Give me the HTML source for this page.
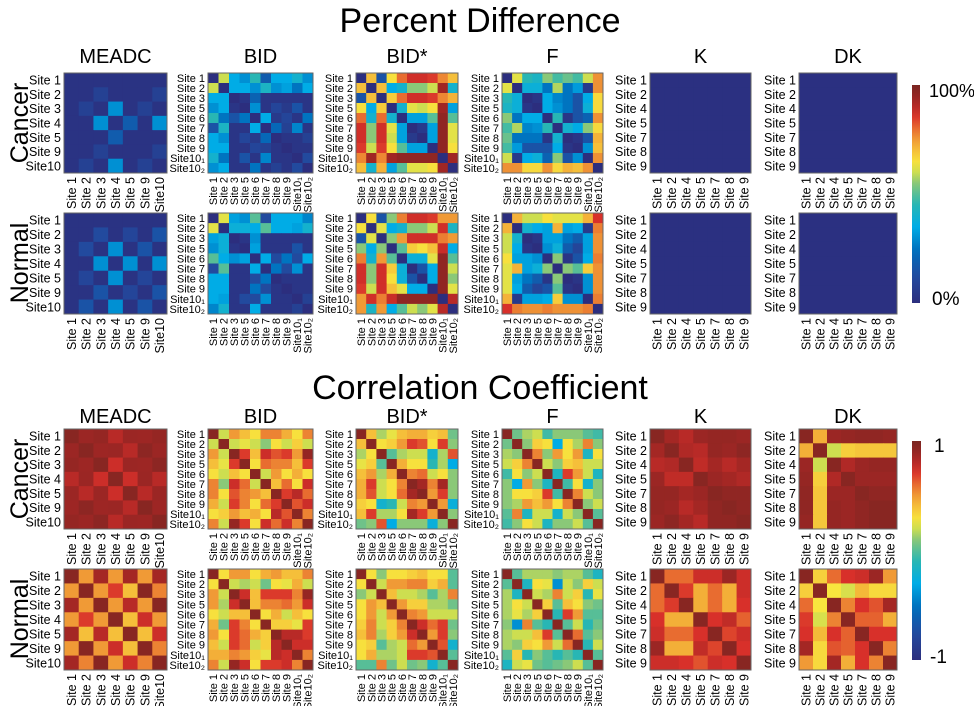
<!DOCTYPE html>
<html><head><meta charset="utf-8"><style>
html,body{margin:0;padding:0;background:#fff;}
svg{display:block;font-family:"Liberation Sans",sans-serif;}
</style></head><body>
<svg id="fig" width="974" height="706" viewBox="0 0 974 706" xmlns="http://www.w3.org/2000/svg">
<defs>
<linearGradient id="cbg" x1="0" y1="1" x2="0" y2="0"></linearGradient>
</defs>
<text x="480" y="32" font-size="34" text-anchor="middle">Percent Difference</text>
<text x="480" y="399" font-size="34" text-anchor="middle">Correlation Coefficient</text>
<g id="panels"></g>
</svg>
<script>
// ---- tick labels ----
const labels7a = ["Site 1","Site 2","Site 3","Site 4","Site 5","Site 9","Site10"];
const labels10 = ["Site 1","Site 2","Site 3","Site 5","Site 6","Site 7","Site 8","Site 9","Site10\u2081","Site10\u2082"];
const labels7k = ["Site 1","Site 2","Site 4","Site 5","Site 7","Site 8","Site 9"];
const methods = ["MEADC","BID","BID*","F","K","DK"];

// ---- percent difference data (0..1) ----
const pdCancerMEADC = [
[.02,.02,.02,.02,.02,.02,.02],[.02,.02,.08,.02,.02,.02,.08],[.02,.08,.02,.3,.02,.08,.02],
[.02,.02,.3,.02,.18,.02,.3],[.02,.02,.02,.18,.02,.02,.02],[.02,.02,.08,.02,.02,.02,.08],[.02,.08,.02,.3,.02,.08,.02]];
const pdNormalMEADC = [
[.02,.02,.02,.02,.02,.02,.02],[.02,.02,.12,.02,.1,.02,.15],[.02,.12,.02,.3,.02,.15,.02],
[.02,.02,.3,.02,.3,.02,.3],[.02,.1,.02,.3,.02,.1,.02],[.02,.02,.15,.02,.1,.02,.15],[.02,.15,.02,.3,.02,.15,.02]];
const pdCancerBID = [
[0,.6,.35,.3,.45,.18,.35,.35,.4,.3],[.6,0,.35,.35,.3,.42,.3,.33,.25,.35],[.35,.35,0,.03,.2,.03,.03,.03,.03,.03],
[.3,.35,.03,0,.3,.03,.1,.05,.15,.03],[.45,.25,.15,.25,0,.35,.05,.1,.03,.25],[.15,.42,.03,.03,.35,0,.22,.08,.28,.03],
[.35,.3,.03,.1,.05,.22,0,.03,.03,.08],[.35,.35,.03,.03,.1,.08,.03,0,.03,.03],[.4,.25,.03,.15,.03,.28,.03,.03,0,.12],
[.3,.35,.03,.03,.25,.03,.08,.03,.12,0]];
const pdNormalBID = [
[0,.62,.33,.3,.5,.12,.35,.35,.35,.28],[.62,0,.38,.38,.35,.5,.35,.35,.33,.4],[.33,.38,0,.03,.3,.03,.03,.03,.03,.03],
[.3,.38,.03,0,.33,.03,.03,.03,.15,.03],[.5,.35,.3,.33,0,.35,.12,.25,.12,.35],[.12,.5,.03,.03,.35,0,.25,.12,.3,.03],
[.35,.35,.03,.03,.12,.25,0,.03,.03,.03],[.35,.35,.03,.03,.25,.12,.03,0,.03,.03],[.35,.33,.03,.12,.12,.3,.03,.03,0,.08],
[.28,.4,.03,.03,.35,.03,.03,.03,.08,0]];
const pdCancerBIDs = [
[0,.7,.15,.65,.8,.87,.87,.85,.77,.7],[.7,0,.7,.35,.4,.55,.55,.6,.93,.4],[.15,.7,0,.68,.8,.87,.87,.85,.77,.72],
[.65,.35,.68,0,.4,.62,.6,.65,.93,.33],[.8,.4,.8,.4,0,.33,.33,.5,.96,.5],[.87,.55,.87,.62,.33,0,.05,.33,.96,.62],
[.87,.55,.87,.6,.33,.05,0,.33,.96,.62],[.85,.6,.85,.65,.5,.33,.33,0,.96,.65],[.77,.93,.77,.93,.96,.96,.96,.96,0,.93],
[.7,.4,.72,.33,.5,.62,.62,.65,.93,0]];
const pdNormalBIDs = [
[0,.65,.15,.55,.78,.87,.87,.85,.75,.75],[.65,0,.62,.35,.4,.55,.55,.6,.87,.42],[.15,.62,0,.55,.75,.87,.87,.87,.78,.75],
[.55,.35,.55,0,.5,.68,.65,.7,.88,.35],[.78,.4,.75,.5,0,.38,.38,.62,.96,.5],[.87,.55,.87,.68,.38,0,.15,.35,.96,.6],
[.87,.55,.87,.65,.38,.15,0,.35,.96,.55],[.85,.6,.87,.7,.62,.35,.35,0,.96,.62],[.75,.87,.78,.88,.96,.96,.96,.96,0,.9],
[.75,.42,.75,.35,.5,.6,.55,.62,.9,0]];
const pdCancerF = [
[0,.62,.45,.42,.55,.48,.52,.48,.6,.76],[.62,0,.38,.38,.25,.58,.25,.32,.05,.76],[.45,.38,0,.03,.35,.28,.25,.15,.35,.66],
[.42,.38,.03,0,.35,.3,.25,.15,.38,.66],[.55,.25,.35,.35,0,.45,.03,.15,.2,.76],[.48,.58,.28,.3,.45,0,.4,.35,.55,.66],
[.52,.25,.25,.25,.03,.4,0,.03,.15,.72],[.48,.32,.15,.15,.15,.35,.03,0,.3,.7],[.6,.05,.35,.38,.2,.55,.15,.3,0,.76],
[.76,.76,.66,.66,.76,.66,.72,.7,.76,0]];
const pdNormalF = [
[0,.72,.6,.6,.65,.62,.62,.62,.72,.86],[.72,0,.4,.35,.33,.72,.33,.35,.05,.78],[.6,.4,0,.03,.33,.33,.25,.18,.33,.76],
[.6,.35,.03,0,.3,.38,.18,.1,.33,.76],[.65,.33,.33,.3,0,.55,.03,.15,.35,.78],[.62,.72,.33,.38,.55,0,.55,.5,.68,.76],
[.62,.33,.25,.18,.03,.55,0,.03,.3,.76],[.62,.35,.18,.1,.15,.5,.03,0,.3,.76],[.72,.05,.33,.33,.35,.68,.3,.3,0,.78],
[.86,.78,.76,.76,.78,.76,.76,.76,.78,0]];
const pdCancerK = [[.01,.01,.01,.01,.01,.01,.01],[.01,.01,.01,.01,.01,.01,.01],[.01,.01,.01,.01,.01,.01,.01],[.01,.01,.01,.01,.01,.01,.01],[.01,.01,.01,.01,.01,.01,.01],[.01,.01,.01,.01,.01,.01,.01],[.01,.01,.01,.01,.01,.01,.01]];
const pdNormalK = [[.01,.01,.01,.01,.01,.01,.01],[.01,.01,.01,.01,.01,.01,.01],[.01,.01,.01,.01,.01,.01,.01],[.01,.01,.01,.01,.01,.01,.01],[.01,.01,.01,.01,.01,.01,.01],[.01,.01,.01,.01,.01,.01,.01],[.01,.01,.01,.01,.01,.01,.01]];
const pdCancerDK = [[.01,.01,.01,.01,.01,.01,.01],[.01,.01,.01,.01,.01,.01,.01],[.01,.01,.01,.01,.01,.01,.01],[.01,.01,.01,.01,.01,.01,.01],[.01,.01,.01,.01,.01,.01,.01],[.01,.01,.01,.01,.01,.01,.01],[.01,.01,.01,.01,.01,.01,.01]];
const pdNormalDK = [[.01,.01,.01,.01,.01,.01,.01],[.01,.01,.01,.01,.01,.01,.01],[.01,.01,.01,.01,.01,.01,.01],[.01,.01,.01,.01,.01,.01,.01],[.01,.01,.01,.01,.01,.01,.01],[.01,.01,.01,.01,.01,.01,.01],[.01,.01,.01,.01,.01,.01,.01]];

// ---- correlation data (-1..1) ----
const ccCancerMEADC = [
[.95,.88,.9,.8,.88,.87,.9],[.88,.95,.87,.88,.8,.93,.88],[.9,.87,.95,.75,.88,.87,.93],[.8,.88,.75,.95,.75,.88,.8],
[.88,.8,.88,.75,.95,.8,.88],[.87,.93,.87,.88,.8,.95,.87],[.9,.88,.93,.8,.88,.87,.95]];
const ccNormalMEADC = [
[.95,.5,.85,.5,.85,.5,.85],[.5,.95,.5,.7,.4,.95,.55],[.85,.5,.95,.5,.8,.5,.95],[.5,.7,.5,.95,.4,.75,.5],
[.85,.4,.8,.4,.95,.4,.75],[.5,.95,.5,.75,.4,.95,.55],[.85,.55,.95,.5,.75,.55,.95]];
const ccCancerBID = [
[.95,.2,.5,.4,.3,.55,.55,.45,.3,.55],[.2,.95,.2,.25,.2,.1,.3,.2,.35,.2],[.5,.2,.95,.7,.4,.75,.65,.7,.5,.9],
[.4,.25,.7,.95,.3,.6,.55,.55,.4,.7],[.3,.2,.4,.3,.95,.2,.5,.3,.45,.3],[.55,.1,.75,.6,.2,.95,.4,.6,.3,.75],
[.55,.3,.65,.55,.5,.4,.95,.7,.8,.6],[.45,.2,.7,.55,.3,.6,.7,.95,.65,.75],[.3,.35,.5,.4,.45,.3,.8,.65,.95,.55],
[.55,.2,.9,.7,.3,.75,.6,.75,.55,.95]];
const ccNormalBID = [
[.95,.3,.5,.5,.3,.45,.5,.4,.4,.55],[.3,.95,.2,.15,.2,.05,.3,.25,.45,.2],[.5,.2,.95,.75,.4,.7,.7,.7,.55,.9],
[.5,.15,.75,.95,.4,.55,.55,.6,.5,.75],[.3,.2,.4,.4,.95,.3,.45,.2,.4,.3],[.45,.05,.7,.55,.3,.95,.35,.35,.25,.7],
[.5,.3,.7,.6,.45,.35,.95,.8,.8,.7],[.4,.2,.7,.6,.2,.35,.8,.95,.75,.75],[.45,.45,.55,.5,.35,.25,.8,.75,.95,.55],
[.55,.2,.9,.75,.3,.7,.7,.75,.55,.95]];
const ccCancerBIDs = [
[.95,.4,.15,.25,.4,.45,.45,.35,.4,.05],[.4,.95,.3,.35,.5,.7,.65,.3,.7,.1],[.15,.3,.95,0,.15,.2,.2,-.2,.15,.65],
[.25,.35,0,.95,.45,.3,.3,-.1,.15,-.3],[.4,.5,.15,.45,.95,.55,.6,.2,.3,.1],[.45,.7,.2,.3,.55,.95,.85,.55,.85,.1],
[.45,.65,.2,.3,.6,.85,.95,.5,.7,.1],[.35,.3,-.2,-.1,.2,.55,.5,.95,.5,-.25],[.4,.7,.15,.15,.3,.85,.7,.5,.95,.1],
[.05,.1,.65,-.3,.1,.1,.1,-.25,.1,.95]];
const ccNormalBIDs = [
[.95,.3,.1,.3,.3,.35,.4,.3,.3,0],[.3,.95,.2,.5,.5,.55,.55,.35,.45,0],[.1,.2,.95,.4,.2,.2,.15,0,.15,.55],
[.3,.5,.4,.95,.5,.35,.35,.15,.15,.05],[.3,.5,.2,.5,.95,.55,.5,.2,.2,.2],[.35,.55,.2,.35,.55,.95,.75,.6,.7,.05],
[.4,.55,.15,.35,.5,.75,.95,.5,.7,.1],[.3,.35,0,.15,.2,.6,.5,.95,.65,-.2],[.3,.45,.15,.15,.2,.7,.7,.65,.95,0],
[0,0,.55,.05,.2,.05,.1,-.2,0,.95]];
const ccCancerF = [
[.95,.05,.15,.2,-.05,.1,.1,.1,0,-.05],[.05,.95,.1,.35,.3,-.3,.3,.15,.55,.1],[.15,.1,.95,.55,.1,.5,.3,.5,-.15,.3],
[.2,.35,.55,.95,.2,.1,.35,.4,.2,.2],[-.05,.3,.1,.2,.95,-.15,.7,.5,.2,-.15],[.1,-.3,.5,.1,-.15,.95,-.05,.3,-.2,.1],
[.1,.3,.3,.35,.7,-.05,.95,.55,.2,.1],[.1,.15,.5,.4,.5,.3,.55,.95,.1,.2],[0,.55,-.15,.2,.2,-.2,.2,.1,.95,0],
[-.05,.1,.3,.2,-.15,.1,.1,.2,0,.95]];
const ccNormalF = [
[.95,0,.15,.15,.15,.1,.15,.15,0,-.15],[0,.95,-.15,.3,.25,-.4,.2,.1,.35,.2],[.15,-.15,.95,.2,.15,.55,.2,.35,-.1,.25],
[.15,.3,.2,.95,.35,0,.4,.3,.1,.05],[.15,.25,.15,.35,.95,-.1,.7,.5,0,0],[.1,-.4,.55,0,-.1,.95,0,.2,-.1,.05],
[.15,.2,.2,.4,.7,0,.95,.6,0,.1],[.15,.1,.35,.3,.5,.2,.6,.95,-.1,.2],[0,.35,-.1,.1,0,-.1,0,-.1,.95,0],
[-.15,.2,.25,.05,0,.05,.1,.2,0,.95]];
const ccCancerK = [
[.95,.85,.8,.88,.9,.9,.88],[.85,.95,.82,.8,.9,.88,.93],[.8,.82,.95,.78,.85,.8,.85],[.88,.78,.78,.95,.88,.85,.82],
[.9,.9,.85,.88,.95,.92,.92],[.9,.88,.8,.85,.92,.95,.92],[.88,.93,.85,.8,.92,.92,.95]];
const ccNormalK = [
[.95,.6,.6,.75,.75,.88,.75],[.6,.95,.7,.45,.6,.45,.75],[.6,.7,.95,.45,.6,.45,.72],[.72,.45,.45,.95,.72,.78,.62],
[.75,.6,.6,.72,.95,.68,.75],[.88,.45,.45,.78,.68,.95,.72],[.75,.75,.72,.65,.75,.72,.95]];
const ccCancerDK = [
[.95,.45,.88,.9,.92,.92,.9],[.45,.95,.2,.35,.38,.38,.38],[.88,.2,.95,.82,.88,.9,.9],[.9,.35,.82,.95,.88,.88,.88],
[.92,.38,.88,.88,.95,.92,.92],[.92,.38,.9,.88,.92,.95,.95],[.9,.38,.9,.88,.92,.95,.95]];
const ccNormalDK = [
[.95,.35,.6,.72,.75,.88,.5],[.35,.95,.28,.22,.42,.32,.32],[.6,.28,.95,.55,.72,.65,.85],[.7,.22,.55,.95,.62,.62,.45],
[.72,.42,.72,.62,.95,.72,.72],[.85,.32,.65,.62,.72,.95,.55],[.5,.32,.85,.45,.72,.55,.95]];

// ---- colormap ----
const stops = [[0,[44,46,126]],[0.12,[34,74,158]],[0.24,[0,110,188]],[0.35,[0,172,230]],[0.45,[40,182,180]],
[0.54,[125,196,128]],[0.6,[205,222,80]],[0.64,[248,230,62]],[0.73,[243,172,56]],[0.8,[232,108,48]],[0.86,[216,48,42]],[0.93,[160,38,36]],[1,[122,38,33]]];
function cmap(t){t=Math.max(0,Math.min(1,t));for(let i=1;i<stops.length;i++){if(t<=stops[i][0]){const a=stops[i-1],b=stops[i];const f=(t-a[0])/(b[0]-a[0]);return 'rgb('+a[1].map((v,k)=>Math.round(v+(b[1][k]-v)*f)).join(',')+')';}}return 'rgb(122,38,33)';}

const NS="http://www.w3.org/2000/svg";
const svg=document.getElementById('fig');
function mk(tag,attrs,parent){const e=document.createElementNS(NS,tag);for(const k in attrs)e.setAttribute(k,attrs[k]);(parent||svg).appendChild(e);return e;}

const grad=document.getElementById('cbg');
for(let i=0;i<=20;i++){const s=document.createElementNS(NS,'stop');s.setAttribute('offset',(i/20));s.setAttribute('stop-color',cmap(i/20));grad.appendChild(s);}

const colX=[64,208,356,502,650,799];
const colW=[103,105,102,101,101,98];
const rowsTop=[[73,100],[213,101]];
const rowsBot=[[429,100],[569,101]];
const pdSets=[[pdCancerMEADC,pdNormalMEADC,labels7a],[pdCancerBID,pdNormalBID,labels10],[pdCancerBIDs,pdNormalBIDs,labels10],[pdCancerF,pdNormalF,labels10],[pdCancerK,pdNormalK,labels7k],[pdCancerDK,pdNormalDK,labels7k]];
const ccSets=[[ccCancerMEADC,ccNormalMEADC,labels7a],[ccCancerBID,ccNormalBID,labels10],[ccCancerBIDs,ccNormalBIDs,labels10],[ccCancerF,ccNormalF,labels10],[ccCancerK,ccNormalK,labels7k],[ccCancerDK,ccNormalDK,labels7k]];

function drawPanel(name,data,labs,x,y,w,h,toT){
  const g=mk('g',{});
  
  
  const n=data.length, cw=w/n, ch=h/n;
  const xs=i=>x+i*cw, ys=j=>y+j*ch;
  for(let r=0;r<n;r++)for(let c=0;c<n;c++){
    const rc=mk('rect',{x:xs(c),y:ys(r),width:cw+0.4,height:ch+0.4,fill:cmap(toT(data[r][c]))},g);
    
    
  }
  const b=mk('rect',{x:x,y:y,width:w,height:h,fill:'none',stroke:'#666','stroke-width':1},g);
  
  
  const fs=n>7?11:12.5;
  for(let j=0;j<n;j++){
    const t=mk('text',{x:x-3,y:ys(j)+ch/2+fs*0.36,'font-size':fs,'text-anchor':'end'},g);
    t.textContent=labs[j];
    
    
    const tx=xs(j)+cw/2+fs*0.36, ty=y+h+4;
    const u=mk('text',{x:tx,y:ty,'font-size':fs,'text-anchor':'end',transform:'rotate(-90 '+tx+' '+ty+')'},g);
    u.textContent=labs[j];
    
    
  }
}
for(let m=0;m<6;m++){
  const hx=colX[m]+colW[m]/2;
  const h1=mk('text',{x:hx,y:63,'font-size':20,'text-anchor':'middle'});h1.textContent=methods[m];
  
  
  const h2=mk('text',{x:hx,y:423,'font-size':20,'text-anchor':'middle'});h2.textContent=methods[m];
  
  
  for(let r=0;r<2;r++){
    drawPanel('pd-heatmap',pdSets[m][r],pdSets[m][2],colX[m],rowsTop[r][0],colW[m],rowsTop[r][1],v=>v);
    drawPanel('cc-heatmap',ccSets[m][r],ccSets[m][2],colX[m],rowsBot[r][0],colW[m],rowsBot[r][1],v=>(v+1)/2);
  }
}
const rowLabs=[["Cancer",123],["Normal",263],["Cancer",479],["Normal",619]];
rowLabs.forEach(([s,cy])=>{const t=mk('text',{x:20,y:cy,'font-size':25,'text-anchor':'middle','dominant-baseline':'central',transform:'rotate(-90 20 '+cy+')'});t.textContent=s;
  
  });
const cb1=mk('rect',{x:912,y:85,width:8,height:218,fill:'url(#cbg)'});


const cb2=mk('rect',{x:912,y:441,width:9,height:219,fill:'url(#cbg)'});


[["100%",929,97,18],["0%",932,305,19],["1",934,452,19],["-1",930,663,19]].forEach(([s,x,y,f])=>{
  const t=mk('text',{x:x,y:y,'font-size':f,'text-anchor':'start'});t.textContent=s;
  
  });
</script>
</body></html>
